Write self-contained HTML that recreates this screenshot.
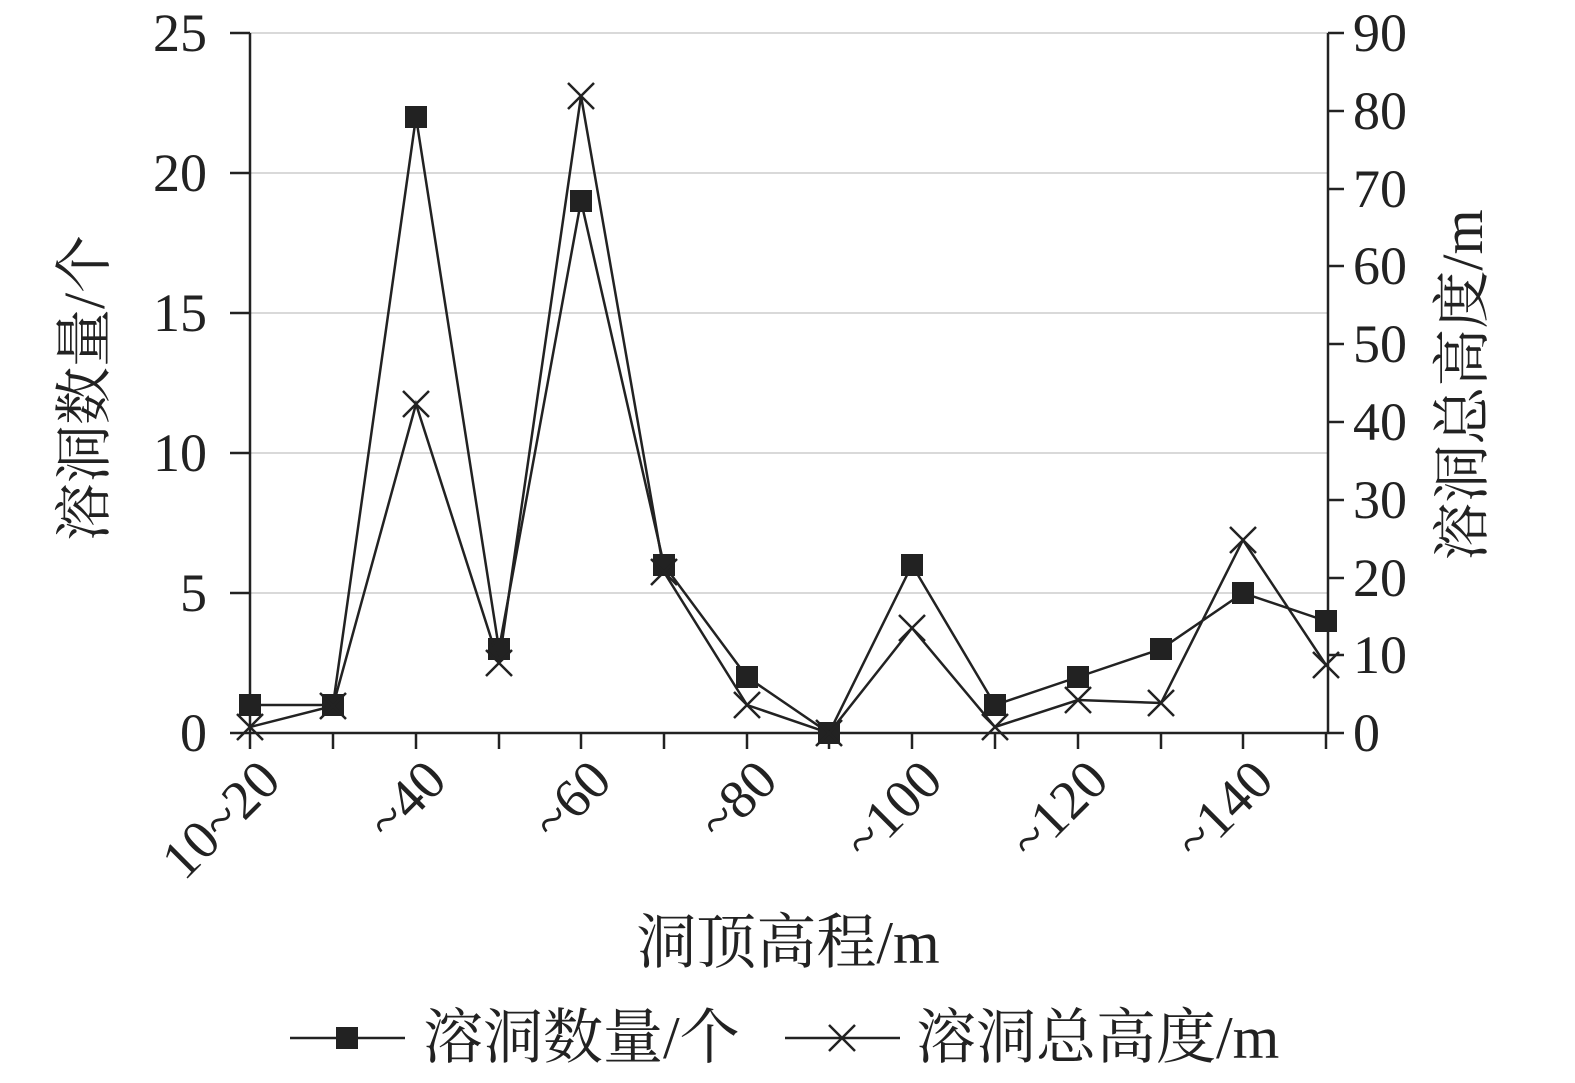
<!DOCTYPE html>
<html><head><meta charset="utf-8"><style>
body{margin:0;background:#fff}
svg text{font-family:"Liberation Serif","Noto Serif CJK SC",serif;fill:#222}
</style></head><body>
<svg width="1575" height="1078" viewBox="0 0 1575 1078" xmlns="http://www.w3.org/2000/svg">
<g stroke="#d9d9d9" stroke-width="2">
<line x1="250" y1="33" x2="1328" y2="33"/><line x1="250" y1="173" x2="1328" y2="173"/><line x1="250" y1="313" x2="1328" y2="313"/><line x1="250" y1="453" x2="1328" y2="453"/><line x1="250" y1="593" x2="1328" y2="593"/>
</g>
<g stroke="#222" stroke-width="2.5" fill="none">
<line x1="250" y1="33" x2="250" y2="733"/><line x1="1328" y1="33" x2="1328" y2="733"/><line x1="250" y1="733" x2="1328" y2="733"/>
<path d="M230 33H250M230 173H250M230 313H250M230 453H250M230 593H250M230 733H250"/>
<path d="M1328 33h16M1328 111h16M1328 189h16M1328 266h16M1328 344h16M1328 422h16M1328 500h16M1328 578h16M1328 655h16M1328 733h16"/>
<path d="M250 733v16M333 733v16M416 733v16M499 733v16M581 733v16M664 733v16M747 733v16M829 733v16M912 733v16M995 733v16M1078 733v16M1161 733v16M1243 733v16M1326 733v16"/>
</g>
<g font-size="54" text-anchor="end">
<text x="207" y="51">25</text><text x="207" y="191">20</text><text x="207" y="331">15</text><text x="207" y="471">10</text><text x="207" y="611">5</text><text x="207" y="751">0</text>
</g>
<g font-size="54" text-anchor="start">
<text x="1353" y="51">90</text><text x="1353" y="129">80</text><text x="1353" y="207">70</text><text x="1353" y="284">60</text><text x="1353" y="362">50</text><text x="1353" y="440">40</text><text x="1353" y="518">30</text><text x="1353" y="596">20</text><text x="1353" y="673">10</text><text x="1353" y="751">0</text>
</g>
<g font-size="55" text-anchor="end">
<text transform="translate(283,783) rotate(-45)">10~20</text>
<text transform="translate(449,783) rotate(-45)">~40</text>
<text transform="translate(614,783) rotate(-45)">~60</text>
<text transform="translate(780,783) rotate(-45)">~80</text>
<text transform="translate(945,783) rotate(-45)">~100</text>
<text transform="translate(1111,783) rotate(-45)">~120</text>
<text transform="translate(1276,783) rotate(-45)">~140</text>
</g>
<text x="788" y="963" font-size="60" text-anchor="middle">洞顶高程/m</text>
<text transform="translate(104,388) rotate(-90)" font-size="58" text-anchor="middle">溶洞数量/个</text>
<text transform="translate(1482,385) rotate(-90)" font-size="58" text-anchor="middle">溶洞总高度/m</text>
<polyline fill="none" stroke="#222" stroke-width="2.5" points="250,705 333,705 416,117 499,649 581,201 664,565 747,677 829,733 912,565 995,705 1078,677 1161,649 1243,593 1326,621"/>
<g fill="#222">
<rect x="239" y="694" width="22" height="22"/><rect x="322" y="694" width="22" height="22"/><rect x="405" y="106" width="22" height="22"/><rect x="488" y="638" width="22" height="22"/><rect x="570" y="190" width="22" height="22"/><rect x="653" y="554" width="22" height="22"/><rect x="736" y="666" width="22" height="22"/><rect x="818" y="722" width="22" height="22"/><rect x="901" y="554" width="22" height="22"/><rect x="984" y="694" width="22" height="22"/><rect x="1067" y="666" width="22" height="22"/><rect x="1150" y="638" width="22" height="22"/><rect x="1232" y="582" width="22" height="22"/><rect x="1315" y="610" width="22" height="22"/>
</g>
<polyline fill="none" stroke="#222" stroke-width="2.5" points="250,727 333,706 416,404 499,663 581,96 664,572 747,705 829,733 912,628 995,727 1078,700 1161,703 1243,540 1326,665"/>
<g stroke="#222" stroke-width="2.5">
<path d="M237 714l26 26M263 714l-26 26M320 693l26 26M346 693l-26 26M403 391l26 26M429 391l-26 26M486 650l26 26M512 650l-26 26M568 83l26 26M594 83l-26 26M651 559l26 26M677 559l-26 26M734 692l26 26M760 692l-26 26M816 720l26 26M842 720l-26 26M899 615l26 26M925 615l-26 26M982 714l26 26M1008 714l-26 26M1065 687l26 26M1091 687l-26 26M1148 690l26 26M1174 690l-26 26M1230 527l26 26M1256 527l-26 26M1313 652l26 26M1339 652l-26 26"/>
</g>
<g stroke="#222" stroke-width="2.5">
<line x1="290" y1="1038" x2="405" y2="1038"/><line x1="785" y1="1038" x2="900" y2="1038"/>
<path d="M829 1025l26 26M855 1025l-26 26"/>
</g>
<rect x="336" y="1027" width="22" height="22" fill="#222"/>
<text x="423" y="1058" font-size="60">溶洞数量/个</text>
<text x="916" y="1058" font-size="60">溶洞总高度/m</text>
</svg>
</body></html>
